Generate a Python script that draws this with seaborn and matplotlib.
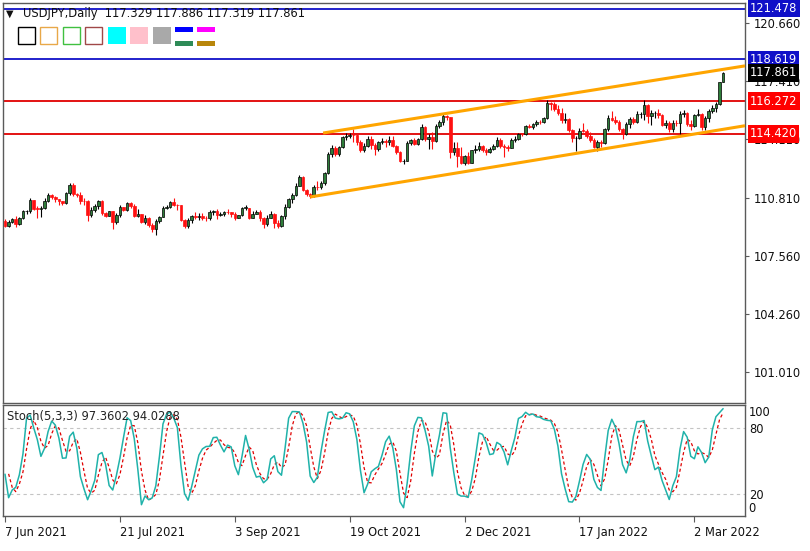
import numpy as np
import pandas as pd
import matplotlib
matplotlib.use("Agg")
import matplotlib.pyplot as plt
import matplotlib.transforms as mtransforms
from matplotlib.patches import Rectangle
import seaborn as sns

sns.set_theme(style="white")
plt.rcParams["font.family"] = ["DejaVu Sans"]

# warm-up bars (27 May - 4 Jun 2021), only used to seed the stochastic
pre_close = [109.83, 109.84, 109.57, 109.49, 109.84, 110.29, 109.52]
pre_high = [109.92, 110.20, 109.88, 109.75, 109.93, 110.33, 110.33]
pre_low = [109.12, 109.72, 109.45, 109.35, 109.39, 109.64, 109.36]

# USDJPY daily bars, 7 Jun 2021 .. 14 Mar 2022 (one per weekday)
close = [
    109.25, 109.48, 109.62, 109.33, 109.67, 110.06, 110.06, 110.70, 110.22, 110.21,
    110.27, 110.65, 110.98, 110.87, 110.75, 110.63, 110.52, 111.10,
    111.55, 111.04, 110.96, 110.63, 110.62, 109.84, 110.14, 110.35, 110.62, 109.97,
    109.81, 110.07, 109.48, 109.85, 110.28, 110.14, 110.55, 110.37, 109.78, 109.89,
    109.47, 109.71,
    109.30, 109.04, 109.49, 109.76, 110.25, 110.28, 110.58, 110.42, 110.39, 109.58,
    109.23, 109.60, 109.77, 109.74, 109.79, 109.70, 109.68, 110.02, 110.08, 109.84,
    109.92, 110.02,
    110.00, 109.93, 109.71, 109.83, 110.26, 110.26, 109.71, 109.93, 110.05, 109.68,
    109.37, 109.71, 109.93, 109.41, 109.22, 109.80, 110.33, 110.75, 110.99, 111.50,
    111.98, 111.29,
    111.05, 110.93, 111.43, 111.42, 111.63, 112.24, 113.31, 113.60, 113.27, 113.68,
    114.22, 114.33, 114.36, 114.34, 113.99, 113.49, 113.72, 114.13, 113.81, 113.57,
    113.95,
    114.01, 113.95, 114.09, 113.76, 113.40, 112.87, 112.89, 113.90, 114.09, 113.86,
    114.15, 114.82, 114.12, 114.26, 114.00, 114.87, 115.10, 115.40, 115.36, 113.38,
    113.64, 113.16,
    112.80, 113.18, 112.80, 113.49, 113.56, 113.72, 113.49, 113.42, 113.57, 113.74,
    114.06, 113.72, 113.69, 113.63, 114.09, 114.11, 114.43, 114.39, 114.86, 114.83,
    114.97, 115.10, 115.08,
    115.31, 116.14, 116.13, 115.83, 115.57, 115.20, 115.28, 114.63, 114.18, 114.19,
    114.61, 114.60, 114.32, 114.10, 113.68, 113.97, 113.88, 114.67, 115.33, 115.23,
    115.10,
    114.67, 114.41, 114.98, 115.26, 115.10, 115.54, 115.54, 116.05, 115.41, 115.58,
    115.60, 115.48, 114.92, 115.01, 114.72, 115.06, 115.03, 115.55, 115.57, 114.98,
    114.87, 115.48, 115.54, 114.80, 115.29, 115.72, 115.86, 116.11, 117.329, 117.861,
]
high = [
    109.62, 109.60, 109.71, 109.78, 109.75, 110.13, 110.16, 110.82, 110.72, 110.35,
    110.36, 110.79, 111.11, 111.03, 110.92, 110.77, 110.66, 111.13,
    111.66, 111.64, 111.12, 111.15, 110.80, 110.70, 110.30, 110.45, 110.70, 110.69,
    110.04, 110.09, 110.08, 109.96, 110.41, 110.33, 110.60, 110.59, 110.50, 110.21,
    109.92, 109.86,
    109.73, 109.38, 109.63, 109.82, 110.37, 110.39, 110.63, 110.81, 110.47, 110.41,
    109.62, 109.68, 109.84, 110.02, 109.97, 109.99, 109.80, 110.14, 110.15, 110.20,
    110.03, 110.06,
    110.19, 110.05, 110.03, 109.88, 110.30, 110.44, 110.26, 110.06, 110.15, 110.16,
    109.72, 109.83, 110.08, 109.97, 109.59, 109.85, 110.45, 110.79, 111.08, 111.68,
    112.08, 112.07,
    111.34, 111.12, 111.55, 111.78, 111.77, 112.28, 113.41, 113.80, 113.73, 113.72,
    114.33, 114.45, 114.47, 114.70, 114.41, 114.10, 113.89, 114.32, 114.30, 113.92,
    114.03,
    114.20, 114.11, 114.29, 114.32, 113.81, 113.48, 113.02, 114.00, 114.15, 114.19,
    114.21, 114.97, 114.87, 114.42, 114.52, 114.96, 115.18, 115.52, 115.47, 115.37,
    113.97, 113.95,
    113.69, 113.23, 113.40, 113.52, 113.81, 113.95, 113.80, 113.64, 113.71, 113.84,
    114.26, 114.20, 113.86, 113.77, 114.17, 114.29, 114.49, 114.46, 114.91, 114.95,
    115.03, 115.19, 115.20,
    115.39, 116.35, 116.24, 116.19, 116.03, 115.86, 115.58, 115.34, 114.72, 114.28,
    114.77, 115.06, 114.68, 114.51, 114.18, 114.09, 114.09, 114.73, 115.47, 115.69,
    115.40,
    115.23, 114.74, 115.09, 115.38, 115.35, 115.69, 115.67, 116.34, 116.09, 115.76,
    115.71, 115.83, 115.53, 115.20, 115.15, 115.20, 115.23, 115.72, 115.76, 115.66,
    115.18, 115.56, 115.80, 115.62, 115.44, 115.81, 116.06, 116.22, 117.36, 117.886,
]
low = [
    109.19, 109.18, 109.38, 109.19, 109.31, 109.62, 109.89, 109.97, 110.14, 109.70,
    109.72, 110.19, 110.60, 110.74, 110.61, 110.43, 110.42, 110.50,
    110.99, 110.95, 110.87, 110.50, 110.40, 109.54, 109.73, 110.05, 110.20, 109.86,
    109.73, 109.78, 109.07, 109.32, 109.76, 110.08, 110.10, 110.23, 109.73, 109.72,
    109.40, 109.36,
    109.18, 108.89, 108.72, 109.40, 109.74, 110.17, 110.24, 110.35, 110.16, 109.53,
    109.12, 109.11, 109.43, 109.61, 109.60, 109.59, 109.52, 109.60, 109.88, 109.63,
    109.82, 109.80,
    109.91, 109.76, 109.59, 109.69, 109.80, 110.14, 109.61, 109.70, 109.90, 109.51,
    109.11, 109.23, 109.68, 109.12, 109.11, 109.20, 109.62, 110.23, 110.55, 110.93,
    111.46, 111.20,
    110.95, 110.82, 110.88, 111.26, 111.33, 111.54, 112.16, 113.13, 113.18, 113.20,
    113.62, 114.05, 114.18, 113.97, 113.81, 113.41, 113.41, 113.70, 113.56, 113.26,
    113.47,
    113.85, 113.68, 113.77, 113.66, 113.31, 112.83, 112.73, 112.89, 113.78, 113.77,
    113.80, 114.07, 114.00, 113.59, 113.59, 113.98, 114.78, 114.91, 115.19, 113.05,
    113.23, 112.53,
    112.70, 112.67, 112.74, 112.76, 113.32, 113.46, 113.41, 113.26, 113.32, 113.51,
    113.67, 113.63, 113.14, 113.44, 113.60, 113.98, 114.10, 114.31, 114.37, 114.74,
    114.71, 114.86, 114.99,
    115.04, 115.24, 115.75, 115.70, 115.49, 115.06, 115.02, 114.50, 113.96, 113.48,
    114.14, 114.51, 114.19, 113.97, 113.62, 113.47, 113.68, 113.84, 114.61, 115.13,
    114.95,
    114.61, 114.15, 114.36, 114.75, 114.98, 115.05, 115.34, 115.23, 115.02, 114.93,
    115.29, 115.34, 114.84, 114.78, 114.50, 114.54, 114.89, 114.41, 115.36, 114.84,
    114.66, 114.80, 115.40, 114.66, 114.66, 115.08, 115.61, 115.68, 116.02, 117.319,
]

blue_levels = [121.478, 118.619]
red_levels = [116.272, 114.420]
price_ticks = [120.660, 117.410, 114.110, 110.810, 107.560, 104.260, 101.010]
# trend channel anchors: (bar index, price)
channel_upper = ([88.6, 206.1], [114.47, 118.25])
channel_lower = ([85.0, 206.1], [110.87, 114.88])
date_tick_bars = [0, 32, 64, 96, 128, 160, 192]
stoch_levels = [80, 20]
header = "USDJPY,Daily  117.329 117.886 117.319 117.861"
stoch_header = "Stoch(5,3,3) 97.3602 94.0288"

# ------------------------------------------------------------------
c_all = pd.Series(pre_close + close)
h_all = pd.Series(pre_high + high)
l_all = pd.Series(pre_low + low)
hh = h_all.rolling(5).max()
ll = l_all.rolling(5).min()
k_all = 100 * (c_all - ll).rolling(3).sum() / (hh - ll).rolling(3).sum()
d_all = k_all.rolling(3).mean()
o_all = c_all.shift(1)

n_pre = len(pre_close)
df = pd.DataFrame({
    "bar": np.arange(len(close)),
    "date": pd.bdate_range("2021-06-07", periods=len(close)),
    "open": o_all.iloc[n_pre:].values,
    "high": high,
    "low": low,
    "close": close,
    "k": k_all.iloc[n_pre:].values,
    "d": d_all.iloc[n_pre:].values,
})

W, H = 810, 551
fig = plt.figure(figsize=(W / 100, H / 100), dpi=100)
fig.patch.set_facecolor("white")
ax = fig.add_axes([3 / W, 1 - 403 / H, 742 / W, 400 / H])
ax2 = fig.add_axes([3 / W, 1 - 516 / H, 742 / W, 111 / H], sharex=ax)

spine_col = "#5a5a5a"
for a in (ax, ax2):
    a.set_facecolor("white")
    for s in a.spines.values():
        s.set_color(spine_col)
        s.set_linewidth(1.0)

# candles
up = df["close"] >= df["open"]
dn = ~up
body = (df["close"] - df["open"]).abs().clip(lower=0.02)
ax.vlines(df.loc[up, "bar"], df.loc[up, "low"], df.loc[up, "high"], color="black", lw=0.8, zorder=3)
ax.vlines(df.loc[dn, "bar"], df.loc[dn, "low"], df.loc[dn, "high"], color="#ff1010", lw=0.8, zorder=3)
ax.bar(df.loc[up, "bar"], body[up], bottom=df.loc[up, "open"], width=0.72,
       color="#2e7d3a", edgecolor="black", linewidth=0.5, zorder=4)
ax.bar(df.loc[dn, "bar"], body[dn], bottom=df.loc[dn, "close"], width=0.72,
       color="#ff1010", edgecolor="#ff1010", linewidth=0.5, zorder=4)

# horizontal levels and channel
for v in blue_levels:
    ax.axhline(v, color="#1010c8", lw=1.3, zorder=2)
for v in red_levels:
    ax.axhline(v, color="#e00000", lw=1.3, zorder=2)
ax.plot(*channel_upper, color="#ffa500", lw=2.2, zorder=5, solid_capstyle="butt")
ax.plot(*channel_lower, color="#ffa500", lw=2.2, zorder=5, solid_capstyle="butt")

ax.set_xlim(-0.56, 206.1)
ax.set_ylim(99.27, 121.79)
ax.yaxis.tick_right()
ax.set_yticks(price_ticks)
ax.set_yticklabels([f"{v:.3f}" for v in price_ticks])
ax.tick_params(axis="y", right=True, length=3, width=0.8, color=spine_col, pad=3,
               labelsize=8.3, labelcolor="#111111")
ax.tick_params(axis="x", bottom=False, labelbottom=False)

# right-hand price tags
blend = mtransforms.blended_transform_factory(ax.transAxes, ax.transData)
tags = [(blue_levels[0], "#1010c8"), (blue_levels[1], "#1010c8"), (close[-1], "black"),
        (red_levels[0], "#ff0000"), (red_levels[1], "#ff0000")]
for v, col in tags:
    ax.text(1.0065, v, f"{v:.3f}", transform=blend, color="white", fontsize=8.3,
            ha="left", va="center", clip_on=False, zorder=10,
            bbox=dict(boxstyle="square,pad=0.2", fc=col, ec="none"))

# stochastic panel
for lv in stoch_levels:
    ax2.axhline(lv, color="#c4c4c4", lw=0.8, ls=(0, (3, 3)), zorder=1)
sns.lineplot(data=df, x="bar", y="k", ax=ax2, color="#20b2aa", lw=1.1, zorder=3)
sns.lineplot(data=df, x="bar", y="d", ax=ax2, color="#e00000", lw=0.9,
             linestyle=(0, (2.5, 2)), zorder=2)
ax2.set_ylim(-0.5, 101)
ax2.set_xlabel("")
ax2.set_ylabel("")
ax2.yaxis.tick_right()
ax2.set_yticks(stoch_levels)
ax2.set_yticklabels([str(v) for v in stoch_levels])
ax2.tick_params(axis="y", right=True, length=0, pad=3, labelsize=8.3, labelcolor="#111111")
blend2 = mtransforms.blended_transform_factory(ax2.transAxes, ax2.transData)
ax2.text(1.0045, 100, "100", transform=blend2, fontsize=8.3, color="#111111", ha="left", va="top")
ax2.text(1.0045, 0, "0", transform=blend2, fontsize=8.3, color="#111111", ha="left", va="bottom")

ax2.set_xticks(date_tick_bars)
ax2.set_xticklabels([f"{d.day} {d:%b %Y}" for d in df["date"].iloc[date_tick_bars]],
                    ha="left")
ax2.tick_params(axis="x", bottom=True, length=4, width=0.8, color=spine_col, pad=3,
                labelsize=8.3, labelcolor="#111111")
ax2.text(0.006, 0.9, stoch_header, transform=ax2.transAxes, fontsize=8.3,
         color="#222222", ha="left", va="center")


# header and colour swatches
def fx(x):
    return x / W


def fy(y):
    return 1 - y / H


fig.text(fx(6), fy(14), "\u25bc", fontsize=7, color="#111111", ha="left", va="center")
fig.text(fx(23), fy(14), header, fontsize=8.3, color="#111111", ha="left", va="center")

outlined = [(18, "#000000"), (40, "#e8a848"), (63, "#40c040"), (85, "#a04848")]
filled = [(108, "#00ffff"), (130, "#ffc0cb"), (153, "#a9a9a9")]
for x0, col in outlined:
    fig.add_artist(Rectangle((fx(x0), fy(44)), 17 / W, 17 / H, transform=fig.transFigure,
                             fc="white", ec=col, lw=1.0))
for x0, col in filled:
    fig.add_artist(Rectangle((fx(x0), fy(44)), 18 / W, 17 / H, transform=fig.transFigure,
                             fc=col, ec="none"))
for x0, top, bot in [(175, "#0000ff", "#2e8b57"), (197, "#ff00ff", "#b8860b")]:
    fig.add_artist(Rectangle((fx(x0), fy(32)), 18 / W, 5 / H, transform=fig.transFigure,
                             fc=top, ec="none"))
    fig.add_artist(Rectangle((fx(x0), fy(46)), 18 / W, 5 / H, transform=fig.transFigure,
                             fc=bot, ec="none"))

fig.savefig("out.png", dpi=100, facecolor="white")
